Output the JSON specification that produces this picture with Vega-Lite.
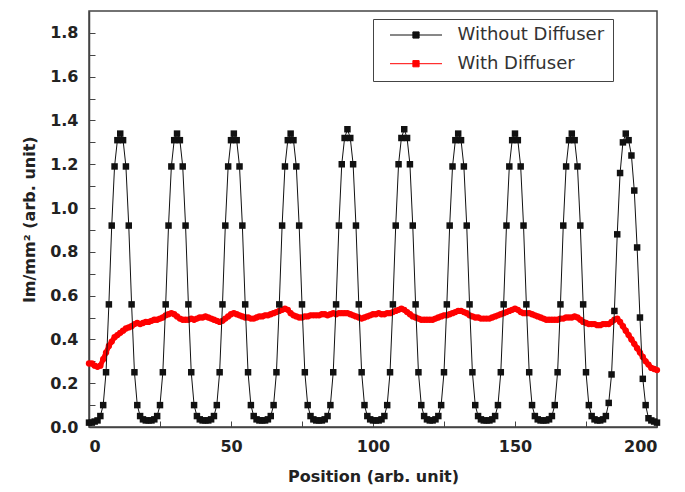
{
"$schema":"https://vega.github.io/schema/vega-lite/v6.json",
"autosize":{"type":"none"},
"width":568,"height":416,
"padding":{"left":89,"top":11,"right":28,"bottom":65},
"background":"white",
"config":{"view":{"stroke":"#444","strokeWidth":1.5},
"axis":{"grid":false,"domainColor":"#444","domainWidth":1.5,"tickColor":"#444","tickWidth":1,"labelFont":"DejaVu Sans","labelFontSize":16,"labelFontWeight":"bold","labelColor":"#222","titleFont":"DejaVu Sans","titleFontSize":16,"titleFontWeight":"bold","titleColor":"#222"}},
"datasets":{
"w":[{"x":0,"y":0.02},{"x":1,"y":0.02},{"x":2,"y":0.025},{"x":3,"y":0.03},{"x":4,"y":0.05},{"x":5,"y":0.1},{"x":6,"y":0.25},{"x":7,"y":0.56},{"x":8,"y":0.92},{"x":9,"y":1.19},{"x":10,"y":1.31},{"x":11,"y":1.34},{"x":12,"y":1.31},{"x":13,"y":1.19},{"x":14,"y":0.92},{"x":15,"y":0.56},{"x":16,"y":0.25},{"x":17,"y":0.1},{"x":18,"y":0.05},{"x":19,"y":0.035},{"x":20,"y":0.03},
{"x":21,"y":0.03},{"x":22,"y":0.03},{"x":23,"y":0.035},{"x":24,"y":0.05},{"x":25,"y":0.1},{"x":26,"y":0.25},{"x":27,"y":0.56},{"x":28,"y":0.92},{"x":29,"y":1.19},{"x":30,"y":1.31},{"x":31,"y":1.34},{"x":32,"y":1.31},{"x":33,"y":1.19},{"x":34,"y":0.92},{"x":35,"y":0.56},{"x":36,"y":0.25},{"x":37,"y":0.1},{"x":38,"y":0.05},{"x":39,"y":0.035},{"x":40,"y":0.03},
{"x":41,"y":0.03},{"x":42,"y":0.03},{"x":43,"y":0.035},{"x":44,"y":0.05},{"x":45,"y":0.1},{"x":46,"y":0.25},{"x":47,"y":0.56},{"x":48,"y":0.92},{"x":49,"y":1.19},{"x":50,"y":1.31},{"x":51,"y":1.34},{"x":52,"y":1.31},{"x":53,"y":1.19},{"x":54,"y":0.92},{"x":55,"y":0.56},{"x":56,"y":0.25},{"x":57,"y":0.1},{"x":58,"y":0.05},{"x":59,"y":0.035},{"x":60,"y":0.03},
{"x":61,"y":0.03},{"x":62,"y":0.03},{"x":63,"y":0.035},{"x":64,"y":0.05},{"x":65,"y":0.1},{"x":66,"y":0.25},{"x":67,"y":0.56},{"x":68,"y":0.92},{"x":69,"y":1.19},{"x":70,"y":1.31},{"x":71,"y":1.34},{"x":72,"y":1.31},{"x":73,"y":1.19},{"x":74,"y":0.92},{"x":75,"y":0.56},{"x":76,"y":0.25},{"x":77,"y":0.1},{"x":78,"y":0.05},{"x":79,"y":0.035},{"x":80,"y":0.03},
{"x":81,"y":0.03},{"x":82,"y":0.03},{"x":83,"y":0.035},{"x":84,"y":0.05},{"x":85,"y":0.1},{"x":86,"y":0.25},{"x":87,"y":0.56},{"x":88,"y":0.92},{"x":89,"y":1.2},{"x":90,"y":1.32},{"x":91,"y":1.36},{"x":92,"y":1.32},{"x":93,"y":1.2},{"x":94,"y":0.92},{"x":95,"y":0.56},{"x":96,"y":0.25},{"x":97,"y":0.1},{"x":98,"y":0.05},{"x":99,"y":0.035},{"x":100,"y":0.03},
{"x":101,"y":0.03},{"x":102,"y":0.03},{"x":103,"y":0.035},{"x":104,"y":0.05},{"x":105,"y":0.1},{"x":106,"y":0.25},{"x":107,"y":0.56},{"x":108,"y":0.92},{"x":109,"y":1.2},{"x":110,"y":1.32},{"x":111,"y":1.36},{"x":112,"y":1.32},{"x":113,"y":1.2},{"x":114,"y":0.92},{"x":115,"y":0.56},{"x":116,"y":0.25},{"x":117,"y":0.1},{"x":118,"y":0.05},{"x":119,"y":0.035},{"x":120,"y":0.03},
{"x":121,"y":0.03},{"x":122,"y":0.035},{"x":123,"y":0.05},{"x":124,"y":0.1},{"x":125,"y":0.25},{"x":126,"y":0.56},{"x":127,"y":0.92},{"x":128,"y":1.19},{"x":129,"y":1.31},{"x":130,"y":1.34},{"x":131,"y":1.31},{"x":132,"y":1.19},{"x":133,"y":0.92},{"x":134,"y":0.56},{"x":135,"y":0.25},{"x":136,"y":0.1},{"x":137,"y":0.05},{"x":138,"y":0.035},{"x":139,"y":0.03},{"x":140,"y":0.03},
{"x":141,"y":0.03},{"x":142,"y":0.035},{"x":143,"y":0.05},{"x":144,"y":0.1},{"x":145,"y":0.25},{"x":146,"y":0.56},{"x":147,"y":0.92},{"x":148,"y":1.19},{"x":149,"y":1.31},{"x":150,"y":1.34},{"x":151,"y":1.31},{"x":152,"y":1.19},{"x":153,"y":0.92},{"x":154,"y":0.56},{"x":155,"y":0.25},{"x":156,"y":0.1},{"x":157,"y":0.05},{"x":158,"y":0.035},{"x":159,"y":0.03},{"x":160,"y":0.03},
{"x":161,"y":0.03},{"x":162,"y":0.035},{"x":163,"y":0.05},{"x":164,"y":0.1},{"x":165,"y":0.25},{"x":166,"y":0.56},{"x":167,"y":0.92},{"x":168,"y":1.19},{"x":169,"y":1.31},{"x":170,"y":1.34},{"x":171,"y":1.31},{"x":172,"y":1.19},{"x":173,"y":0.92},{"x":174,"y":0.56},{"x":175,"y":0.25},{"x":176,"y":0.1},{"x":177,"y":0.05},{"x":178,"y":0.035},{"x":179,"y":0.03},{"x":180,"y":0.03},
{"x":181,"y":0.035},{"x":182,"y":0.05},{"x":183,"y":0.11},{"x":184,"y":0.24},{"x":185,"y":0.53},{"x":186,"y":0.88},{"x":187,"y":1.16},{"x":188,"y":1.3},{"x":189,"y":1.34},{"x":190,"y":1.31},{"x":191,"y":1.24},{"x":192,"y":1.08},{"x":193,"y":0.82},{"x":194,"y":0.5},{"x":195,"y":0.22},{"x":196,"y":0.1},{"x":197,"y":0.04},{"x":198,"y":0.03},{"x":199,"y":0.025},{"x":200,"y":0.02}],
"d":[{"x":0,"y":0.29},{"x":1,"y":0.29},{"x":2,"y":0.28},{"x":3,"y":0.275},{"x":4,"y":0.28},{"x":5,"y":0.31},{"x":6,"y":0.34},{"x":7,"y":0.37},{"x":8,"y":0.39},{"x":9,"y":0.41},{"x":10,"y":0.42},{"x":11,"y":0.43},{"x":12,"y":0.44},{"x":13,"y":0.45},{"x":14,"y":0.455},{"x":15,"y":0.46},{"x":16,"y":0.47},{"x":17,"y":0.475},{"x":18,"y":0.47},{"x":19,"y":0.475},{"x":20,"y":0.48},
{"x":21,"y":0.48},{"x":22,"y":0.485},{"x":23,"y":0.49},{"x":24,"y":0.49},{"x":25,"y":0.495},{"x":26,"y":0.5},{"x":27,"y":0.51},{"x":28,"y":0.515},{"x":29,"y":0.52},{"x":30,"y":0.515},{"x":31,"y":0.505},{"x":32,"y":0.495},{"x":33,"y":0.49},{"x":34,"y":0.49},{"x":35,"y":0.49},{"x":36,"y":0.495},{"x":37,"y":0.49},{"x":38,"y":0.495},{"x":39,"y":0.5},{"x":40,"y":0.5},
{"x":41,"y":0.505},{"x":42,"y":0.5},{"x":43,"y":0.495},{"x":44,"y":0.49},{"x":45,"y":0.485},{"x":46,"y":0.48},{"x":47,"y":0.485},{"x":48,"y":0.495},{"x":49,"y":0.505},{"x":50,"y":0.515},{"x":51,"y":0.52},{"x":52,"y":0.515},{"x":53,"y":0.51},{"x":54,"y":0.505},{"x":55,"y":0.5},{"x":56,"y":0.5},{"x":57,"y":0.495},{"x":58,"y":0.495},{"x":59,"y":0.5},{"x":60,"y":0.505},
{"x":61,"y":0.505},{"x":62,"y":0.51},{"x":63,"y":0.51},{"x":64,"y":0.515},{"x":65,"y":0.52},{"x":66,"y":0.525},{"x":67,"y":0.53},{"x":68,"y":0.535},{"x":69,"y":0.54},{"x":70,"y":0.535},{"x":71,"y":0.52},{"x":72,"y":0.51},{"x":73,"y":0.505},{"x":74,"y":0.5},{"x":75,"y":0.5},{"x":76,"y":0.505},{"x":77,"y":0.505},{"x":78,"y":0.51},{"x":79,"y":0.51},{"x":80,"y":0.51},
{"x":81,"y":0.51},{"x":82,"y":0.515},{"x":83,"y":0.515},{"x":84,"y":0.51},{"x":85,"y":0.515},{"x":86,"y":0.52},{"x":87,"y":0.515},{"x":88,"y":0.52},{"x":89,"y":0.52},{"x":90,"y":0.52},{"x":91,"y":0.52},{"x":92,"y":0.515},{"x":93,"y":0.51},{"x":94,"y":0.505},{"x":95,"y":0.5},{"x":96,"y":0.495},{"x":97,"y":0.5},{"x":98,"y":0.505},{"x":99,"y":0.51},{"x":100,"y":0.515},
{"x":101,"y":0.515},{"x":102,"y":0.52},{"x":103,"y":0.515},{"x":104,"y":0.515},{"x":105,"y":0.52},{"x":106,"y":0.52},{"x":107,"y":0.525},{"x":108,"y":0.53},{"x":109,"y":0.535},{"x":110,"y":0.54},{"x":111,"y":0.535},{"x":112,"y":0.525},{"x":113,"y":0.515},{"x":114,"y":0.505},{"x":115,"y":0.5},{"x":116,"y":0.495},{"x":117,"y":0.49},{"x":118,"y":0.49},{"x":119,"y":0.49},{"x":120,"y":0.49},
{"x":121,"y":0.49},{"x":122,"y":0.495},{"x":123,"y":0.5},{"x":124,"y":0.505},{"x":125,"y":0.51},{"x":126,"y":0.51},{"x":127,"y":0.515},{"x":128,"y":0.52},{"x":129,"y":0.525},{"x":130,"y":0.53},{"x":131,"y":0.53},{"x":132,"y":0.525},{"x":133,"y":0.52},{"x":134,"y":0.51},{"x":135,"y":0.505},{"x":136,"y":0.5},{"x":137,"y":0.5},{"x":138,"y":0.495},{"x":139,"y":0.495},{"x":140,"y":0.495},
{"x":141,"y":0.495},{"x":142,"y":0.5},{"x":143,"y":0.505},{"x":144,"y":0.51},{"x":145,"y":0.515},{"x":146,"y":0.52},{"x":147,"y":0.525},{"x":148,"y":0.53},{"x":149,"y":0.535},{"x":150,"y":0.54},{"x":151,"y":0.535},{"x":152,"y":0.525},{"x":153,"y":0.52},{"x":154,"y":0.52},{"x":155,"y":0.52},{"x":156,"y":0.515},{"x":157,"y":0.51},{"x":158,"y":0.505},{"x":159,"y":0.5},{"x":160,"y":0.495},
{"x":161,"y":0.49},{"x":162,"y":0.49},{"x":163,"y":0.49},{"x":164,"y":0.49},{"x":165,"y":0.49},{"x":166,"y":0.495},{"x":167,"y":0.495},{"x":168,"y":0.5},{"x":169,"y":0.5},{"x":170,"y":0.5},{"x":171,"y":0.505},{"x":172,"y":0.5},{"x":173,"y":0.49},{"x":174,"y":0.48},{"x":175,"y":0.475},{"x":176,"y":0.47},{"x":177,"y":0.47},{"x":178,"y":0.47},{"x":179,"y":0.465},{"x":180,"y":0.465},
{"x":181,"y":0.47},{"x":182,"y":0.47},{"x":183,"y":0.47},{"x":184,"y":0.48},{"x":185,"y":0.49},{"x":186,"y":0.495},{"x":187,"y":0.48},{"x":188,"y":0.46},{"x":189,"y":0.44},{"x":190,"y":0.42},{"x":191,"y":0.4},{"x":192,"y":0.38},{"x":193,"y":0.36},{"x":194,"y":0.34},{"x":195,"y":0.32},{"x":196,"y":0.3},{"x":197,"y":0.285},{"x":198,"y":0.27},{"x":199,"y":0.265},{"x":200,"y":0.26}]
},
"encoding":{
"x":{"field":"x","type":"quantitative","scale":{"domain":[0,200],"nice":false},
"axis":{"title":"Position (arb. unit)","values":[0,25,50,75,100,125,150,175,200],"labelExpr":"datum.value % 50 === 0 ? datum.label : ''","tickSize":-6,"labelPadding":17,"titlePadding":14,
"encode":{"ticks":{"update":{"y2":{"signal":"datum.value % 50 === 0 ? -7 : -4"}}}}}},
"y":{"field":"y","type":"quantitative","scale":{"domain":[0,1.9],"nice":false},
"axis":{"title":"lm/mm² (arb. unit)","values":[0,0.1,0.2,0.3,0.4,0.5,0.6,0.7,0.8,0.9,1.0,1.1,1.2,1.3,1.4,1.5,1.6,1.7,1.8],"labelExpr":"round(datum.value*10) % 2 === 0 ? format(datum.value, '.1f') : ''","tickSize":-6,"labelPadding":17,"titlePadding":12,
"encode":{"ticks":{"update":{"x2":{"signal":"round(datum.value*10) % 2 === 0 ? 7 : 4"}}}}}}
},
"layer":[
{"data":{"name":"d"},"mark":{"type":"point","shape":"circle","filled":true,"size":40,"opacity":1},"encoding":{"color":{"datum":"With Diffuser",
"scale":{"domain":["Without Diffuser","With Diffuser"],"range":["#111","#ff0000"]},
"legend":{"title":null,"orient":"none","legendX":284,"legendY":8,"strokeColor":"#444","fillColor":"white","padding":8,"clipHeight":16,"rowPadding":10.7,"symbolSize":2704,"symbolOffset":8.5,"labelOffset":15,"labelFont":"DejaVu Sans","labelFontSize":18,"labelColor":"#333","labelExpr":"datum.label + '\u00a0\u00a0'",
"symbolType":"M-1,0H1M-0.12,-0.12H0.12V0.12H-0.12Z","symbolStrokeWidth":1}}}},
{"data":{"name":"d"},"mark":{"type":"line","strokeWidth":5},"encoding":{"color":{"datum":"With Diffuser"}}},
{"data":{"name":"w"},"mark":{"type":"line","strokeWidth":1},"encoding":{"color":{"datum":"Without Diffuser"}}},
{"data":{"name":"w"},"mark":{"type":"point","shape":"square","filled":true,"size":42,"opacity":1},"encoding":{"color":{"datum":"Without Diffuser"}}}
]
}
